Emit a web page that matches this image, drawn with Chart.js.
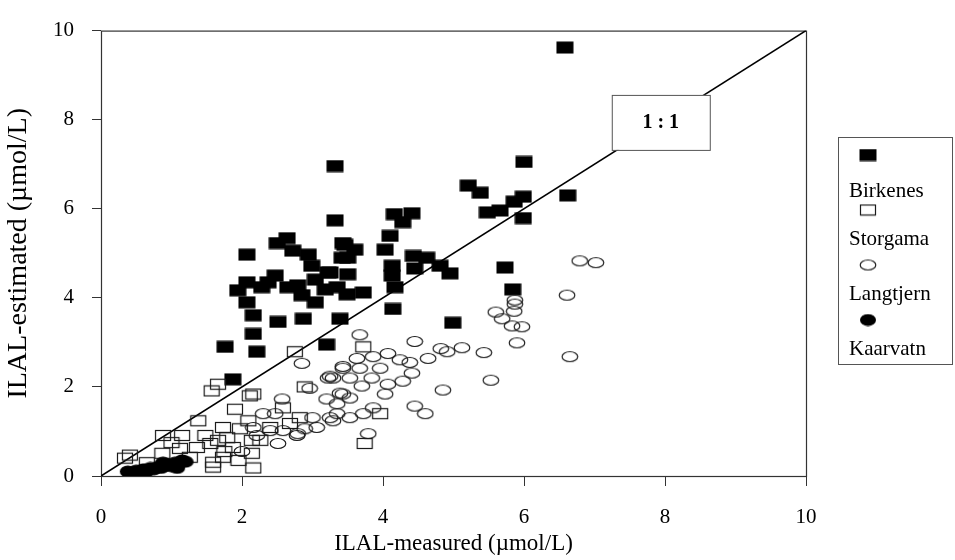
<!DOCTYPE html>
<html>
<head>
<meta charset="utf-8">
<script src="https://cdn.jsdelivr.net/npm/chart.js@4.4.0/dist/chart.umd.min.js"></script>
<style>
  body { margin: 0; background: #fff; }
</style>
</head>
<body>
<canvas id="ilalChart" width="955" height="560"></canvas>
<script>
const seriesNames = ['Birkenes', 'Storgama', 'Langtjern', 'Kaarvatn'];

// [measured, estimated] pairs
const birkenes = [
  [6.58, 9.62], [6.0, 7.05], [3.32, 6.96], [3.32, 5.74], [5.21, 6.52], [5.38, 6.36], [5.48, 5.92],
  [5.66, 5.96], [5.86, 6.16], [5.99, 6.27], [5.99, 5.79], [6.62, 6.3], [4.16, 5.88], [4.41, 5.9],
  [4.28, 5.7], [4.1, 5.39], [3.43, 5.23], [5.73, 4.68], [5.84, 4.19], [4.99, 3.44], [4.14, 3.75],
  [3.39, 3.53], [4.81, 4.72], [4.95, 4.55], [4.03, 5.08], [4.43, 4.94], [4.62, 4.9], [4.45, 4.66],
  [4.13, 4.72], [4.13, 4.5], [4.17, 4.24], [3.46, 5.19], [3.6, 5.08], [3.5, 4.9], [3.5, 4.53],
  [3.25, 4.57], [3.35, 4.24], [3.49, 4.08], [3.72, 4.12], [3.2, 2.95], [2.07, 4.97], [2.5, 5.23],
  [2.64, 5.34], [2.72, 5.06], [2.94, 4.97], [3.42, 4.9], [1.94, 4.17], [2.07, 4.35], [2.07, 3.9],
  [2.37, 4.35], [2.47, 4.5], [2.65, 4.24], [2.79, 4.28], [2.85, 4.06], [2.99, 4.72], [3.04, 4.41],
  [3.18, 4.19], [3.22, 4.57], [3.04, 3.9], [2.28, 4.24], [2.16, 3.61], [2.51, 3.46], [2.87, 3.53],
  [2.16, 3.19], [2.21, 2.79], [1.76, 2.9], [1.87, 2.17]
];
const storgama = [
  [1.66, 2.06], [1.57, 1.91], [2.11, 1.8], [1.9, 1.5], [1.38, 1.24], [0.88, 0.91], [1.15, 0.91],
  [1.48, 0.91], [1.73, 1.09], [1.97, 1.06], [0.41, 0.47], [0.87, 0.51], [1.12, 0.62], [1.36, 0.64],
  [1.55, 0.73], [1.66, 0.8], [1.79, 0.86], [1.87, 0.64], [1.59, 0.31], [1.59, 0.2], [2.14, 0.51],
  [2.16, 0.18], [1.26, 0.42], [2.09, 1.24], [2.14, 0.8], [1.73, 0.42], [3.72, 2.9], [2.75, 2.79],
  [2.89, 2.0], [3.74, 0.73], [2.82, 1.31], [2.58, 1.53], [2.16, 1.84], [2.4, 1.09], [2.68, 1.18],
  [2.26, 0.8], [3.96, 1.4], [0.34, 0.4], [0.65, 0.3], [1.0, 0.75], [1.75, 0.55], [1.95, 0.35]
];
const langtjern = [
  [6.79, 4.83], [7.02, 4.79], [6.61, 4.06], [6.65, 2.68], [5.87, 3.95], [5.87, 3.86], [5.86, 3.7],
  [5.6, 3.68], [5.69, 3.53], [5.83, 3.37], [5.97, 3.35], [5.9, 2.99], [5.43, 2.77], [5.12, 2.88],
  [4.91, 2.79], [4.82, 2.86], [4.64, 2.64], [4.45, 3.02], [5.53, 2.15], [4.85, 1.93], [4.45, 1.57],
  [4.6, 1.4], [3.79, 0.95], [3.67, 3.17], [4.41, 2.31], [4.28, 2.13], [4.38, 2.55], [4.24, 2.61],
  [4.07, 2.75], [3.86, 2.68], [3.63, 2.64], [3.43, 2.42], [3.67, 2.42], [3.96, 2.42], [3.53, 2.2],
  [3.84, 2.2], [4.07, 2.06], [4.03, 1.84], [3.7, 2.02], [3.29, 2.2], [3.43, 1.84], [3.53, 1.75],
  [3.86, 1.53], [3.72, 1.4], [3.35, 1.62], [3.35, 1.4], [3.53, 1.31], [3.29, 1.24], [2.85, 2.53],
  [3.43, 2.46], [3.25, 2.24], [2.96, 1.97], [3.39, 1.86], [2.57, 1.73], [3.2, 1.73], [2.3, 1.4],
  [2.47, 1.4], [3.0, 1.31], [3.25, 1.31], [3.06, 1.09], [2.4, 1.02], [2.16, 1.09], [2.58, 1.02],
  [2.89, 1.06], [2.21, 0.91], [2.78, 0.91], [2.51, 0.73], [2.79, 0.95], [3.22, 2.2], [2.0, 0.55]
];
const kaarvatn = [
  [0.38, 0.1], [0.45, 0.08], [0.5, 0.12], [0.55, 0.1], [0.6, 0.15], [0.65, 0.12], [0.7, 0.18],
  [0.75, 0.15], [0.8, 0.2], [0.85, 0.18], [0.9, 0.22], [0.95, 0.25], [1.0, 0.22], [1.05, 0.3],
  [1.1, 0.28], [1.15, 0.35], [1.2, 0.32], [0.5, 0.05], [0.62, 0.06], [0.42, 0.04], [1.08, 0.18],
  [0.88, 0.3]
];

const oneToOne = [[0, 0], [10, 10]];
const oneToOneText = '1 : 1';
const oneToOneAt = [7.94, 7.95];
const axisTicks = [0, 2, 4, 6, 8, 10];

const serif = "'Liberation Serif', 'Times New Roman', serif";

// little canvases used as point styles (scan shows wide markers)
function marker(kind) {
  const c = document.createElement('canvas');
  c.width = 18;
  c.height = 13;
  const g = c.getContext('2d');
  g.strokeStyle = '#1a1a1a';
  g.fillStyle = '#000';
  g.lineWidth = 1.2;
  if (kind === 'fillRect') {
    g.fillRect(0.5, 0.5, 17, 12);
  } else if (kind === 'openRect') {
    g.strokeRect(1.5, 1.5, 15, 10);
  } else if (kind === 'openCircle') {
    g.beginPath();
    g.ellipse(9, 6.5, 7.8, 5, 0, 0, Math.PI * 2);
    g.stroke();
  } else {
    g.beginPath();
    g.ellipse(9, 6.5, 8, 6, 0, 0, Math.PI * 2);
    g.fill();
  }
  return c;
}

const markers = [marker('fillRect'), marker('openRect'), marker('openCircle'), marker('fillCircle')];
const seriesData = [birkenes, storgama, langtjern, kaarvatn];

const toPoints = arr => arr.map(p => ({ x: p[0], y: p[1] }));

const datasets = seriesData.map((arr, i) => ({
  label: seriesNames[i],
  data: toPoints(arr),
  pointStyle: markers[i],
  pointRadius: 8,
  pointHoverRadius: 8,
  order: 3 - i
}));

datasets.push({
  label: '1:1',
  type: 'line',
  data: toPoints(oneToOne),
  borderColor: '#000',
  borderWidth: 1.6,
  pointRadius: 0,
  fill: false,
  order: 10
});

// box around the plot area
const frame = {
  id: 'frame',
  beforeDatasetsDraw(chart) {
    const { ctx, chartArea: a } = chart;
    ctx.save();
    ctx.strokeStyle = '#333';
    ctx.lineWidth = 1.2;
    ctx.strokeRect(a.left + 0.5, a.top + 0.5, a.right - a.left, a.bottom - a.top);
    ctx.restore();
  }
};

// "1 : 1" tag sitting on the diagonal
const ratioTag = {
  id: 'ratioTag',
  afterDatasetsDraw(chart) {
    const { ctx, scales } = chart;
    const cx = scales.x.getPixelForValue(oneToOneAt[0]);
    const cy = scales.y.getPixelForValue(oneToOneAt[1]);
    ctx.save();
    ctx.fillStyle = '#fff';
    ctx.fillRect(cx - 49, cy - 27, 98, 55);
    ctx.strokeStyle = '#555';
    ctx.lineWidth = 1;
    ctx.strokeRect(cx - 49 + 0.5, cy - 27 + 0.5, 98, 55);
    ctx.fillStyle = '#000';
    ctx.font = 'bold 20px ' + serif;
    ctx.textAlign = 'center';
    ctx.textBaseline = 'middle';
    ctx.fillText(oneToOneText, cx, cy + 1);
    ctx.restore();
  }
};

// legend: marker on one line, name on the next
const sideLegend = {
  id: 'sideLegend',
  afterDraw(chart) {
    const { ctx } = chart;
    ctx.save();
    ctx.strokeStyle = '#555';
    ctx.lineWidth = 1;
    ctx.strokeRect(838.5, 137.5, 114, 227);
    ctx.font = '21px ' + serif;
    ctx.fillStyle = '#000';
    ctx.textBaseline = 'middle';
    ctx.textAlign = 'left';
    seriesNames.forEach((name, i) => {
      const y = 155 + i * 55;
      ctx.drawImage(markers[i], 859, y - 6.5);
      ctx.fillText(name, 849, y + (i === 0 ? 36 : 29));
    });
    ctx.restore();
  }
};

const tickFont = { family: serif, size: 21 };

new Chart(document.getElementById('ilalChart').getContext('2d'), {
  type: 'scatter',
  data: { datasets: datasets },
  options: {
    responsive: false,
    animation: false,
    layout: { padding: { left: 2, right: 149, top: 25, bottom: 0 } },
    plugins: {
      legend: { display: false },
      tooltip: { enabled: false }
    },
    scales: {
      x: {
        type: 'linear',
        min: 0,
        max: 10,
        afterBuildTicks: s => { s.ticks = axisTicks.map(v => ({ value: v })); },
        afterFit: s => { s.height = 84; },
        border: { display: false },
        grid: { drawOnChartArea: false, drawTicks: true, tickLength: 10, color: '#333' },
        ticks: { color: '#000', font: tickFont, padding: 19, maxRotation: 0 },
        title: {
          display: true,
          text: 'ILAL-measured (µmol/L)',
          color: '#000',
          font: { family: serif, size: 23 },
          padding: { top: 0, bottom: 2 }
        }
      },
      y: {
        type: 'linear',
        min: 0,
        max: 10,
        afterBuildTicks: s => { s.ticks = axisTicks.map(v => ({ value: v })); },
        afterFit: s => { s.width = 99; },
        border: { display: false },
        grid: { drawOnChartArea: false, drawTicks: true, tickLength: 9, color: '#333' },
        ticks: { color: '#000', font: tickFont, padding: 18 },
        title: {
          display: true,
          text: 'ILAL-estimated (µmol/L)',
          color: '#000',
          font: { family: serif, size: 28 },
          padding: { top: 0, bottom: 0 }
        }
      }
    }
  },
  plugins: [frame, ratioTag, sideLegend]
});
</script>
</body>
</html>
